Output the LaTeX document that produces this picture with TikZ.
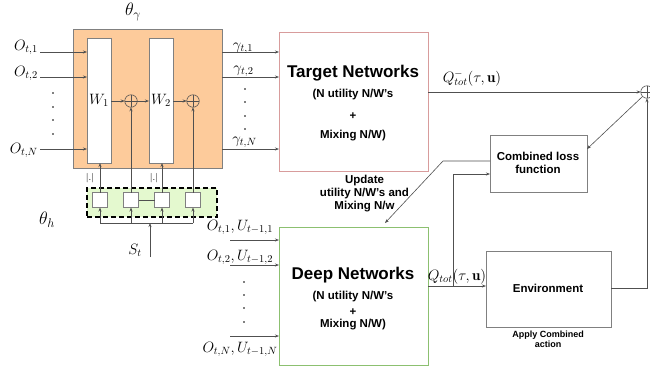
\RequirePackage{fix-cm}
\documentclass[tikz,border=0pt]{standalone}
\usepackage{fontspec}
\setsansfont{Liberation Sans}
\usetikzlibrary{arrows.meta,calc}
\definecolor{orangefill}{HTML}{FDCB9B}
\definecolor{greenfill}{HTML}{E4F9CF}
\definecolor{pinkedge}{HTML}{D89C9C}
\definecolor{greenedge}{HTML}{8CC070}
\definecolor{linegray}{HTML}{505050}
\definecolor{boxgray}{HTML}{808080}
\tikzset{
  mlbl/.style={inner sep=0pt, font=\fontsize{15}{18}\selectfont},
  thlbl/.style={inner sep=0pt, font=\fontsize{18}{21}\selectfont},
  tinylbl/.style={inner sep=0pt, font=\fontsize{9.5}{10}\selectfont},
  bigtxt/.style={inner sep=0pt, anchor=base, font=\sffamily\bfseries\fontsize{17}{20}\selectfont},
  medtxt/.style={inner sep=0pt, anchor=base, font=\sffamily\bfseries\fontsize{11.5}{13}\selectfont},
  smalltxt/.style={inner sep=0pt, anchor=base, font=\sffamily\bfseries\fontsize{9}{10}\selectfont},
  obox/.style={draw=boxgray, fill=orangefill, line width=0.7pt, inner sep=0pt, outer sep=0pt, minimum width=149pt, minimum height=139pt},
  wbox/.style={draw=boxgray, fill=white, line width=0.6pt, inner sep=0pt, outer sep=0pt, minimum width=24pt, minimum height=125pt, font=\fontsize{15}{18}\selectfont},
  hbox/.style={draw=black, fill=greenfill, line width=1.6pt, dash pattern=on 5pt off 3pt, inner sep=0pt, outer sep=0pt, minimum width=130pt, minimum height=29pt},
  sq/.style={draw=boxgray, fill=white, line width=0.6pt, inner sep=0pt, outer sep=0pt, minimum size=15pt},
  plus/.style={circle, draw=linegray, line width=0.6pt, minimum size=12.5pt, inner sep=0pt, outer sep=0pt,
    path picture={\draw[linegray, line width=0.6pt] (path picture bounding box.north) -- (path picture bounding box.south)
      (path picture bounding box.west) -- (path picture bounding box.east);}},
  tbox/.style={draw=pinkedge, line width=0.7pt, inner sep=0pt, outer sep=0pt, minimum width=149pt, minimum height=139pt},
  dbox/.style={draw=greenedge, line width=0.7pt, inner sep=0pt, outer sep=0pt, minimum width=149pt, minimum height=138pt},
  gbox/.style={draw=boxgray, line width=0.7pt, inner sep=0pt, outer sep=0pt},
  arr/.style={draw=linegray, line width=0.6pt, -{Stealth[length=4pt,width=3pt]}},
  conn/.style={draw=linegray, line width=0.6pt}
}
\begin{document}
\begin{tikzpicture}[x=1pt,y=-1pt]
\useasboundingbox (0,0) rectangle (650,368);

% ---------- hypernetwork block ----------
\node[obox] (hyper) at (147.5,98.5) {};
\node[wbox] (W1) at (99,100.5) {$W_1$};
\node[wbox] (W2) at (161,100.5) {$W_2$};
\node[plus] (p1) at (131,101) {};
\node[plus] (p2) at (193,101) {};
\draw[arr] (W1.east |- p1) -- (p1.west);
\draw[arr] (p1.east) -- (W2.west |- p1);
\draw[arr] (W2.east |- p2) -- (p2.west);
\node[thlbl] (thg) at (133,12) {$\theta_\gamma$};

% inputs
\coordinate (in1) at (40,52);
\coordinate (in2) at (40,77);
\coordinate (inN) at (40,149);
\draw[arr] (in1) -- (W1.west |- in1);
\draw[arr] (in2) -- (W1.west |- in2);
\draw[arr] (inN) -- (W1.west |- inN);
\node[mlbl, anchor=base east] (o1) at (38,50) {$O_{t,1}$};
\node[mlbl, anchor=base east] (o2) at (38,76) {$O_{t,2}$};
\node[mlbl, anchor=base east] (oN) at (38,153) {$O_{t,N}$};
\foreach \yy in {93,107,120,134} \fill (53,\yy) circle[radius=0.9pt];

% gamma outputs
\node[tbox] (target) at (353.5,101.5) {};
\coordinate (g1) at (0,52);
\coordinate (g2) at (0,77);
\coordinate (gN) at (0,149);
\draw[arr] (hyper.east |- g1) -- (target.west |- g1);
\draw[arr] (hyper.east |- g2) -- (target.west |- g2);
\draw[arr] (hyper.east |- gN) -- (target.west |- gN);
\node[mlbl, anchor=base] (gl1) at (243,49.5) {$\gamma_{t,1}$};
\node[mlbl, anchor=base] (gl2) at (243.5,72) {$\gamma_{t,2}$};
\node[mlbl, anchor=base] (glN) at (244.5,143.5) {$\gamma_{t,N}$};
\foreach \yy in {89,102,116,129} \fill (245,\yy) circle[radius=0.9pt];

% ---------- hyper head (theta_h) ----------
\node[hbox] (hnet) at (152,202.5) {};
\node[sq] (s1) at (100,200) {};
\node[sq] (s2) at (131,200) {};
\node[sq] (s3) at (162,200) {};
\node[sq] (s4) at (193,200) {};
\draw[conn] (s2.east) -- (s3.west);
\draw[arr] (s1.north) -- (s1.north |- W1.south);
\draw[arr] (s2.north) -- (p1.south);
\draw[arr] (s3.north) -- (s3.north |- W2.south);
\draw[arr] (s4.north) -- (p2.south);
\node[tinylbl] (abs1) at (90,178) {$|.|$};
\node[tinylbl] (abs2) at (154,178) {$|.|$};
\coordinate (busy) at (0,223);
\draw[conn] (s1 |- busy) -- (s4 |- busy);
\foreach \s in {s1,s2,s3,s4} \draw[arr] (\s |- busy) -- (\s.south);
\coordinate (St) at (150,257);
\draw[arr] (St) -- (St |- busy);
\node[mlbl] (stl) at (135,250) {$S_t$};
\node[thlbl] (thh) at (47,220) {$\theta_h$};

% ---------- target network text ----------
\node[bigtxt] (tt1) at (353,77) {Target Networks};
\node[medtxt] (tt2) at (353,97) {(N utility N/W's};
\node[medtxt] (tt3) at (353,119) {+};
\node[medtxt] (tt4) at (353,138) {Mixing N/W)};

% ---------- deep networks ----------
\node[dbox] (deep) at (353.5,296) {};
\node[bigtxt] (dt1) at (353,279) {Deep Networks};
\node[medtxt] (dt2) at (353,299) {(N utility N/W's};
\node[medtxt] (dt3) at (353,315) {+};
\node[medtxt] (dt4) at (353,327) {Mixing N/W)};
\coordinate (d1) at (230,240);
\coordinate (d2) at (230,265);
\coordinate (dN) at (230,336);
\draw[arr] (d1) -- (deep.west |- d1);
\draw[arr] (d2) -- (deep.west |- d2);
\draw[arr] (dN) -- (deep.west |- dN);
\node[mlbl, anchor=base] (dl1) at (240,230) {$O_{t,1}, U_{t-1,1}$};
\node[mlbl, anchor=base] (dl2) at (240,260) {$O_{t,2}, U_{t-1,2}$};
\node[mlbl, anchor=base] (dlN) at (240,352) {$O_{t,N}, U_{t-1,N}$};
\foreach \yy in {282,295,308,322} \fill (244,\yy) circle[radius=0.9pt];

% update text
\node[medtxt] (u1) at (364.5,183) {Update};
\node[medtxt] (u2) at (364.5,196) {utility N/W's and};
\node[medtxt] (u3) at (364.5,209) {Mixing N/w};

% ---------- loss, environment, sum ----------
\node[gbox, minimum width=97pt, minimum height=57pt] (loss) at (538.5,163.5) {};
\node[medtxt] (l1) at (538,160.7) {Combined loss};
\node[medtxt] (l2) at (538,173) {function};
\node[gbox, minimum width=125pt, minimum height=76pt] (env) at (548.5,289) {};
\node[medtxt] (e1) at (548,292.7) {Environment};
\node[smalltxt] (a1) at (548,337) {Apply Combined};
\node[smalltxt] (a2) at (548,347) {action};
\node[plus] (psum) at (647,92) {};

\draw[arr] (target.east |- psum) -- (psum.west);
\node[mlbl, anchor=base] (qml) at (472,82) {$Q^{-}_{tot}(\tau,\mathbf{u})$};
\draw[arr] (psum.south west) -- ([yshift=14.5pt]loss.east);
\coordinate (bend1) at (443,161);
\draw[arr] ([yshift=2.5pt]loss.west) -- (bend1) -- ([xshift=31.5pt,yshift=4pt]deep.north);
\coordinate (qy) at (0,286);
\draw[arr] (deep.east |- qy) -- (env.west |- qy);
\coordinate (split) at (453,286);
\draw[arr] (split) |- ([yshift=-10.5pt]loss.west);
\node[mlbl, anchor=base] (ql) at (457,280) {$Q_{tot}(\tau,\mathbf{u})$};
\draw[arr] ([yshift=1pt]env.east) -| (psum.south);
\end{tikzpicture}
\end{document}
